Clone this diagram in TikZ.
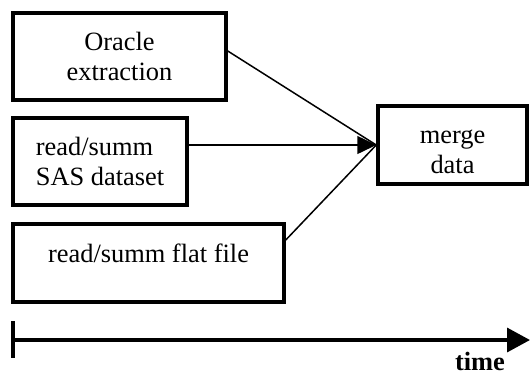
\documentclass[tikz,border=0pt]{standalone}
\usepackage{fontspec}
\setmainfont{Liberation Serif}
\usetikzlibrary{arrows.meta}
\begin{document}
\begin{tikzpicture}[x=1pt,y=-1pt,
  box/.style={draw,line width=3.5pt,rectangle,inner sep=0pt,font=\fontsize{26.4}{30}\selectfont,align=center},
  conn/.style={line width=1.5pt},
  axis/.style={line width=3.5pt}]
\useasboundingbox (0,0) rectangle (530,376);
\node[box,minimum width=213pt,minimum height=87pt] (o) at (119.5,56.5) {Oracle\\extraction};
\node[box,minimum width=174pt,minimum height=87pt,align=left] (s) at (100,161.5) {read/summ\\SAS dataset};
\node[box,minimum width=271pt,minimum height=78pt,text depth=19pt] (f) at (148.5,263) {read/summ flat file};
\node[box,minimum width=149pt,minimum height=78pt,text height=58pt] (m) at (452.5,145) {merge\\data};
\draw[conn] ([yshift=5.5pt]o.east) -- (m.west);
\draw[conn,-{Triangle[length=19pt,width=18pt]}] (s.east |- m.west) -- (m.west);
\draw[conn] ([yshift=23pt]f.east) -- (m.west);
\coordinate (ta) at (13,321);
\coordinate (tb) at (13,358);
\coordinate (t0) at (13,340);
\coordinate (t1) at (530,340);
\draw[axis] (ta) -- (tb);
\draw[axis,-{Triangle[length=23pt,width=24pt]}] (t0) -- (t1);
\node[font=\fontsize{26.4}{30}\selectfont\bfseries,inner sep=1pt] (tl) at (480,361) {time};
\end{tikzpicture}
\end{document}
